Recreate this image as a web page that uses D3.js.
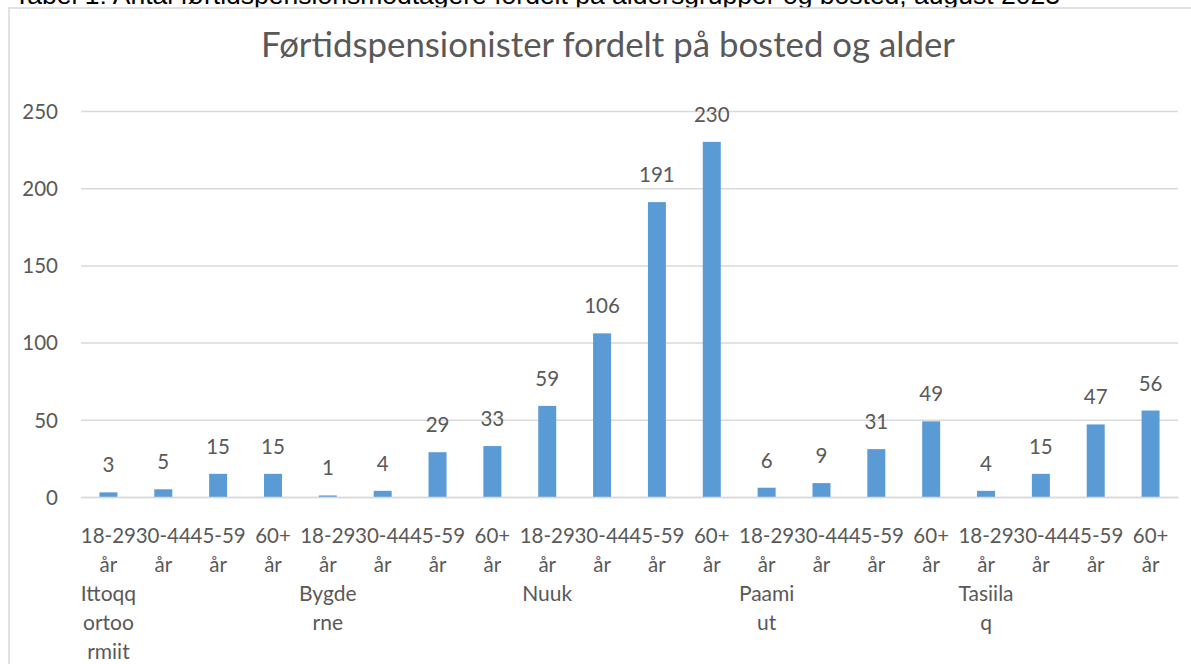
<!DOCTYPE html>
<html>
<head>
<meta charset="utf-8">
<script src="https://cdn.jsdelivr.net/npm/d3@7"></script>
<style>
    body { margin: 0; background: #fff; }
    svg { display: block; }
    text { font-family: Lato, "Open Sans", sans-serif; fill: #595959; }
</style>
</head>
<body>
<svg width="1191" height="664"></svg>
<script>
// Data
const ages = ['18-29 år', '30-44 år', '45-59 år', '60+ år'];
const places = ['Ittoqqortoormiit', 'Bygderne', 'Nuuk', 'Paamiut', 'Tasiilaq'];
// the place names as Excel wraps them in the narrow band
const placeLines = [['Ittoqq', 'ortoo', 'rmiit'], ['Bygde', 'rne'], ['Nuuk'], ['Paami', 'ut'], ['Tasiila', 'q']];
const values = [3, 5, 15, 15, 1, 4, 29, 33, 59, 106, 191, 230, 6, 9, 31, 49, 4, 15, 47, 56];
const yTicks = [0, 50, 100, 150, 200, 250];

const W = 1191, H = 664;
const LEFT = 81, RIGHT = 1178, TOP = 111, BOTTOM = 497;
const BAR = '#5B9BD5', GRID = '#D9D9D9', TEXT = '#595959';
const LINE_H = 29;

const svg = d3.select('svg');

// category list built from places x ages
const cats = [];
places.forEach((p, pi) => ages.forEach((a, ai) => cats.push({place: pi, age: a, i: cats.length})));

const x = d3.scaleBand()
    .domain(cats.map(c => c.i))
    .range([LEFT, RIGHT])
    .paddingInner(0.672)
    .paddingOuter(0.336);

const y = d3.scaleLinear()
    .domain([0, 250])
    .range([BOTTOM, TOP]);

// Caption above the chart, mostly cut off at the top of the picture
svg.append('text')
    .attr('x', 14)
    .attr('y', 4)
    .style('font-family', '"Liberation Sans", Arial, sans-serif')
    .style('font-size', '26.5px')
    .style('fill', '#000')
    .text('Tabel 1: Antal førtidspensionsmodtagere fordelt på aldersgrupper og bosted, august 2023');

// Chart frame
svg.append('rect')
    .attr('x', 9)
    .attr('y', 8)
    .attr('width', W)
    .attr('height', H)
    .attr('fill', '#fff')
    .attr('stroke', GRID)
    .attr('stroke-width', 1.5);

// Title
svg.append('text')
    .attr('x', 608)
    .attr('y', 57)
    .attr('text-anchor', 'middle')
    .style('font-size', '34.8px')
    .text('Førtidspensionister fordelt på bosted og alder');

// Y axis with gridlines
const yAxis = svg.append('g')
    .attr('transform', `translate(${LEFT},0)`)
    .call(d3.axisLeft(y).tickValues(yTicks).tickSize(-(RIGHT - LEFT)).tickPadding(23));
yAxis.select('.domain').remove();
yAxis.selectAll('line').attr('stroke', GRID).attr('stroke-width', 1.5);
yAxis.selectAll('text')
    .attr('dy', '0.36em')
    .style('font-size', '20.5px')
    .style('font-family', 'Lato, sans-serif')
    .style('fill', TEXT);

// Bars
svg.append('g').selectAll('rect')
    .data(cats)
    .join('rect')
    .attr('x', d => x(d.i))
    .attr('y', d => y(values[d.i]))
    .attr('width', x.bandwidth())
    .attr('height', d => y(0) - y(values[d.i]))
    .attr('fill', BAR);

// Value labels
svg.append('g').selectAll('text')
    .data(cats)
    .join('text')
    .attr('x', d => x(d.i) + x.bandwidth() / 2)
    .attr('y', d => y(values[d.i]) - 20)
    .attr('text-anchor', 'middle')
    .style('font-size', '20.5px')
    .text(d => values[d.i]);

// X axis: age labels in two lines
const xAxis = svg.append('g')
    .attr('transform', `translate(0,${BOTTOM})`)
    .call(d3.axisBottom(x).tickSize(0).tickFormat(i => cats[i].age));
xAxis.select('.domain').attr('stroke', GRID).attr('stroke-width', 1.5);
xAxis.selectAll('text')
    .style('font-size', '20.5px')
    .style('font-family', 'Lato, sans-serif')
    .style('fill', TEXT)
    .attr('dy', null)
    .attr('y', 46)
    .each(function () {
        const t = d3.select(this);
        const parts = t.text().split(' ');
        t.text(null);
        parts.forEach((p, k) => t.append('tspan')
            .attr('x', 0)
            .attr('dy', k === 0 ? 0 : LINE_H)
            .text(p));
    });

// Place labels under the first category of each place
svg.append('g').selectAll('text')
    .data(places)
    .join('text')
    .attr('x', (p, pi) => x(pi * ages.length) + x.bandwidth() / 2)
    .attr('y', BOTTOM + 46 + 2 * LINE_H)
    .attr('text-anchor', 'middle')
    .style('font-size', '21px')
    .each(function (p, pi) {
        const t = d3.select(this);
        placeLines[pi].forEach((line, k) => t.append('tspan')
            .attr('x', t.attr('x'))
            .attr('dy', k === 0 ? 0 : LINE_H)
            .text(line));
    });
</script>
</body>
</html>
